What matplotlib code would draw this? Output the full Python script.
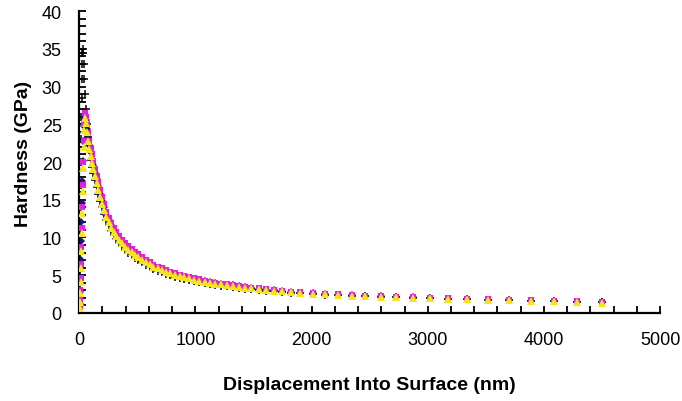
import matplotlib
matplotlib.use('Agg')
import matplotlib.pyplot as plt
from matplotlib.ticker import MultipleLocator

plt.rcParams['font.family'] = ['Liberation Sans', 'DejaVu Sans']

# depth (nm) shared by the coloured test series
depth = [4, 7, 10, 13, 16, 19, 22, 26, 30, 35, 40, 46, 53, 61, 70, 79, 89,
         100, 111, 123, 136, 150, 165, 181, 198, 216, 235, 255, 276, 298,
         321, 345, 370, 396, 423, 451, 480, 510, 541, 573, 606, 640, 675,
         711, 748, 786, 825, 865, 906, 948, 991, 1035, 1080, 1126, 1173,
         1221, 1270, 1320, 1372, 1425, 1480, 1545, 1612, 1680, 1750, 1825,
         1902, 2011, 2117, 2232, 2347, 2461, 2597, 2728, 2877, 3021, 3173,
         3337, 3522, 3701, 3887, 4088, 4288, 4498]

h_magenta = [0.8, 1.8, 3.0, 4.6, 6.5, 8.8, 11.2, 14.0, 17.0, 20.0, 22.8, 25.0,
             26.5, 26.0, 25.0, 23.8, 22.8, 21.9, 21.0, 20.2, 19.1, 18.2, 17.3,
             16.3, 15.4, 14.4, 13.4, 12.6, 11.9, 11.2, 10.7, 10.2, 9.7, 9.25,
             8.85, 8.45, 8.1, 7.75, 7.4, 7.05, 6.7, 6.4, 6.15, 5.9, 5.65, 5.45,
             5.25, 5.05, 4.9, 4.75, 4.6, 4.45, 4.3, 4.15, 4.0, 3.9, 3.8, 3.7,
             3.58, 3.47, 3.36, 3.25, 3.14, 3.03, 2.93, 2.83, 2.72, 2.62, 2.53,
             2.45, 2.37, 2.3, 2.22, 2.15, 2.08, 2.01, 1.94, 1.87, 1.8, 1.73,
             1.66, 1.6, 1.52, 1.42]

h_yellow = [0.6, 1.5, 2.6, 4.1, 6.0, 8.2, 10.6, 13.3, 16.2, 19.2, 22.0, 24.3,
            25.8, 25.2, 24.0, 22.8, 21.7, 20.8, 19.9, 19.1, 18.1, 17.2, 16.3,
            15.4, 14.5, 13.6, 12.7, 12.0, 11.3, 10.7, 10.2, 9.7, 9.25, 8.8,
            8.4, 8.05, 7.7, 7.4, 7.05, 6.75, 6.45, 6.15, 5.9, 5.65, 5.45, 5.25,
            5.05, 4.88, 4.72, 4.57, 4.43, 4.29, 4.15, 4.02, 3.88, 3.78, 3.68,
            3.58, 3.47, 3.36, 3.26, 3.15, 3.05, 2.95, 2.85, 2.75, 2.65, 2.55,
            2.46, 2.38, 2.3, 2.23, 2.15, 2.08, 2.01, 1.95, 1.88, 1.81, 1.74,
            1.67, 1.6, 1.54, 1.46, 1.36]

h_blue = [1.2, 2.8, 4.8, 7.0, 9.5, 12.0, 14.6, 17.5, 20.2, 22.8, 24.8, 26.0,
          26.2, 25.5, 24.4, 23.2, 22.2, 21.3, 20.4, 19.6, 18.6, 17.7, 16.8,
          15.8, 14.9, 14.0, 13.0, 12.3, 11.6, 10.9, 10.4, 9.9, 9.45, 9.0,
          8.6, 8.25, 7.9, 7.55, 7.2, 6.9, 6.55, 6.25, 6.0, 5.75, 5.55, 5.35,
          5.15, 4.95, 4.8, 4.65, 4.5, 4.36, 4.22, 4.08, 3.94, 3.84, 3.74,
          3.64, 3.52, 3.41, 3.3, 3.2, 3.09, 2.99, 2.89, 2.79, 2.69, 2.59,
          2.5, 2.42, 2.34, 2.26, 2.19, 2.12, 2.05, 1.98, 1.91, 1.84, 1.77,
          1.7, 1.63, 1.57, 1.49, 1.4]

# reference sample (black crosses)
depth_black = [2, 4, 6, 8, 10, 12, 14, 16, 18, 20, 22, 24, 26, 28,
               30, 35, 40, 46, 53, 61, 70, 79, 89, 100, 111, 123, 136, 150,
               165, 181, 198, 216, 235, 255, 276, 298, 321, 345, 370, 396,
               423, 451, 480, 510, 541, 573, 606, 640, 675, 711, 748, 786,
               825, 865, 906, 948, 991, 1035, 1080, 1126, 1173, 1221, 1270,
               1320, 1372, 1425, 1480, 1545, 1612, 1680, 1750, 1825, 1902,
               2011, 2117, 2232, 2347, 2461, 2597, 2728, 2877, 3021, 3173,
               3337, 3522, 3701, 3887, 4088, 4288, 4498]

h_black = [1.0, 3.0, 5.5, 8.0, 11.0, 14.0, 17.0, 20.0, 23.0, 26.0, 28.5,
           31.0, 33.0, 34.5,
           35.0, 34.5, 33.0, 31.0, 29.0, 27.0, 25.0, 23.3, 21.6, 20.3, 19.3,
           18.5, 17.6, 16.7, 15.8, 14.9, 14.0, 13.1, 12.3, 11.6, 10.9, 10.3,
           9.8, 9.3, 8.85, 8.4, 8.0, 7.65, 7.3, 7.0, 6.7, 6.4, 6.1, 5.85,
           5.6, 5.38, 5.18, 4.98, 4.8, 4.63, 4.48, 4.34, 4.2, 4.07, 3.95,
           3.83, 3.72, 3.62, 3.52, 3.43, 3.34, 3.24, 3.14, 3.04, 2.95, 2.86,
           2.77, 2.68, 2.59, 2.5, 2.42, 2.34, 2.27, 2.2, 2.13, 2.06, 1.99,
           1.93, 1.87, 1.8, 1.73, 1.66, 1.6, 1.53, 1.47, 1.39]

x_ticks = [0, 1000, 2000, 3000, 4000, 5000]
y_ticks = [0, 5, 10, 15, 20, 25, 30, 35, 40]

fig = plt.figure(figsize=(6.82, 4.02), dpi=100)
ax = fig.add_axes([0.116, 0.219, 0.852, 0.751])

# black crosses sit underneath the coloured markers
ax.plot(depth_black, h_black, '+', color='black', ms=6, mew=1.1, zorder=1)
ax.plot(depth, h_blue, 'D', color='#1a1a6e', ms=3.8, mew=0, zorder=2)
ax.plot(depth, h_magenta, 's', color='#e020e0', ms=5, mew=0, zorder=3)
ax.plot(depth, h_yellow, '^', color='#f5e61a', ms=5.5, mew=0, zorder=4)

ax.set_xlim(0, 5000)
ax.set_ylim(0, 40)
ax.set_xticks(x_ticks)
ax.set_yticks(y_ticks)
ax.xaxis.set_minor_locator(MultipleLocator(200))
ax.yaxis.set_minor_locator(MultipleLocator(1))
ax.tick_params(which='both', direction='in', width=1.3, length=5,
               labelsize=13, colors='black')
ax.tick_params(axis='x', pad=13)
ax.tick_params(axis='y', pad=12.5)

for side in ['top', 'right']:
    ax.spines[side].set_visible(False)
for side in ['left', 'bottom']:
    ax.spines[side].set_linewidth(1.6)

ax.set_xlabel('Displacement Into Surface (nm)', fontsize=14, fontweight='bold',
              labelpad=20)
ax.set_ylabel('Hardness (GPa)', fontsize=14, fontweight='bold', labelpad=9)
ax.yaxis.set_label_coords(-0.081, 0.53)

fig.savefig('out.png', dpi=100)
